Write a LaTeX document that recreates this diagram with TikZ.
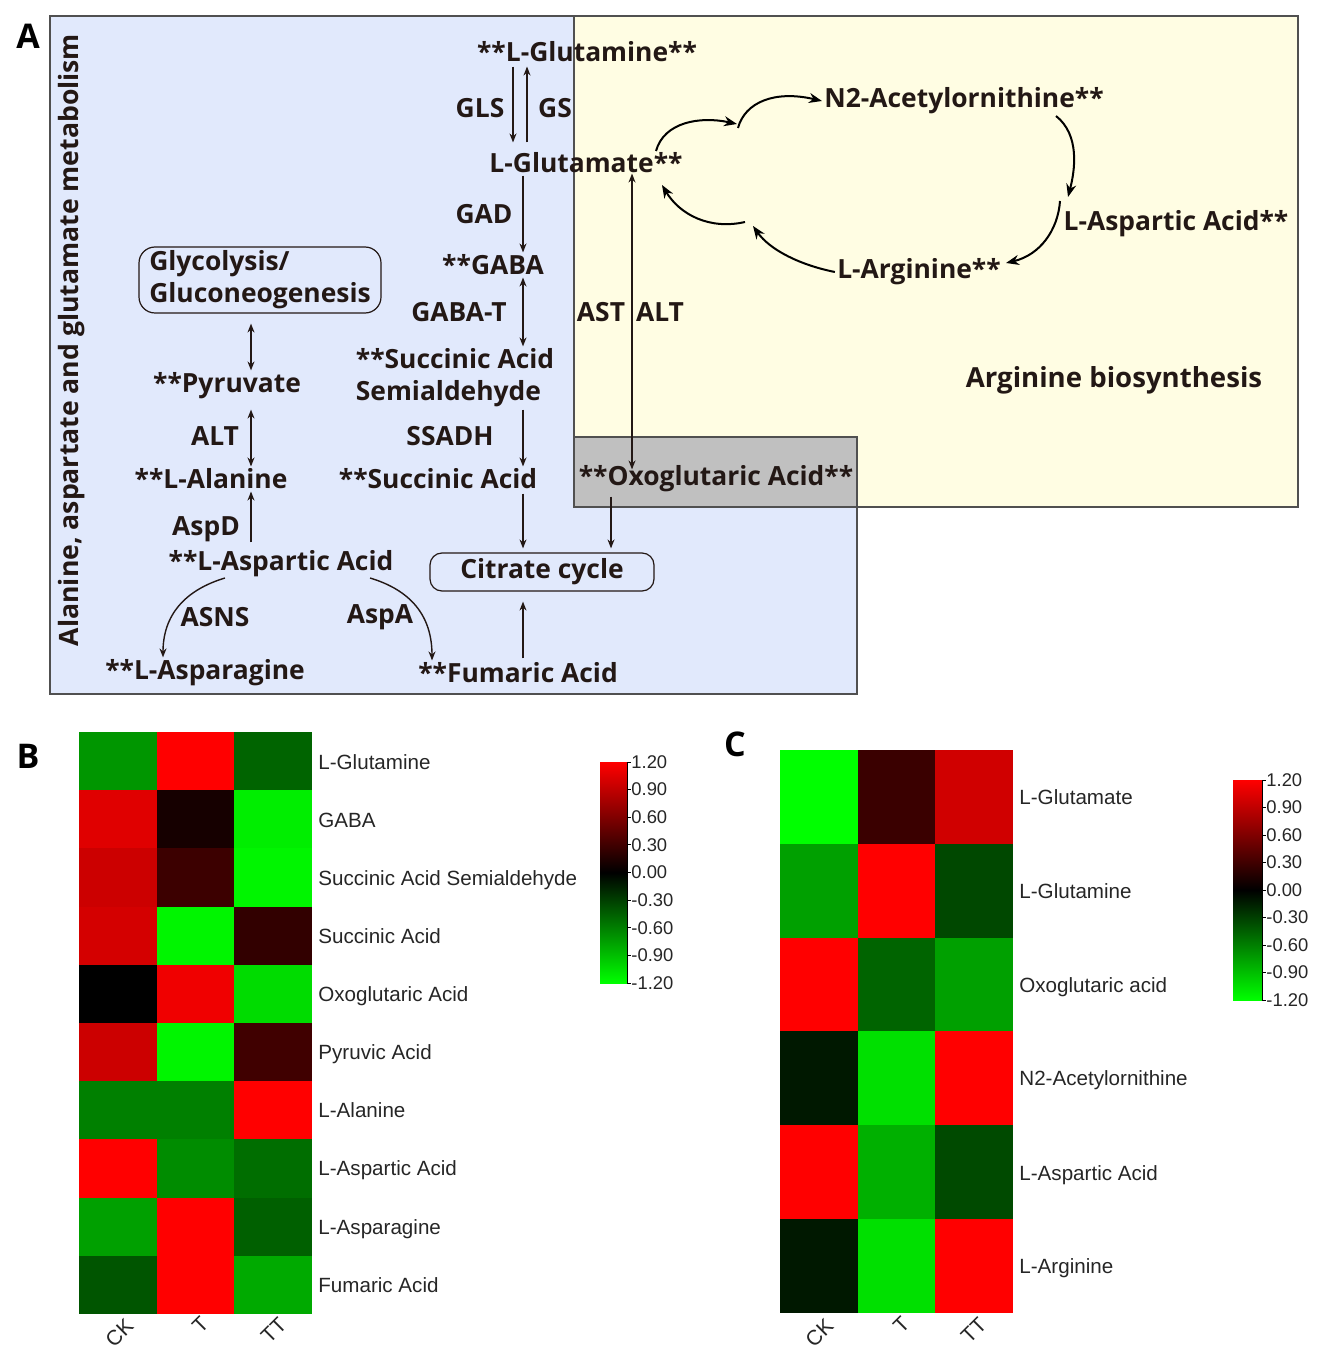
\documentclass[tikz,border=0pt]{standalone}
\usepackage{fontspec}
\setmainfont{Open Sans}
\newfontfamily\arf{Liberation Sans}
\usetikzlibrary{arrows.meta}
\definecolor{tx}{HTML}{231815}
\definecolor{bluebg}{HTML}{E1E9FC}
\definecolor{yelbg}{HTML}{FFFDE3}
\definecolor{graybg}{HTML}{C0C0C0}
\definecolor{frm}{HTML}{505050}
\begin{document}
\begin{tikzpicture}[x=0.5pt,y=-0.5pt,
  lbl/.style={font=\bfseries\fontsize{13.2}{16}\selectfont, text=tx, inner sep=1pt, yshift=-1pt},
  boxlbl/.style={lbl, yshift=0pt, draw=tx, line width=0.6pt},
  ttl/.style={font=\bfseries\fontsize{13.3}{15}\selectfont, text=tx, inner sep=0pt},
  arr/.style={draw=tx, line width=0.6pt, -{Stealth[length=4.5pt,width=3.5pt]}},
  darr/.style={draw=tx, line width=0.6pt, {Stealth[length=4.5pt,width=3.5pt]}-{Stealth[length=4.5pt,width=3.5pt]}},
  cyc/.style={draw=black, line width=1pt, -{Stealth[length=6.5pt,width=5pt]}},
  hm/.style={font=\arf\fontsize{10.3}{12}\selectfont, anchor=west, inner sep=0pt, text=black!85},
  tk/.style={font=\arf\fontsize{9.2}{10}\selectfont, anchor=west, inner sep=0pt, text=black!85},
  cl/.style={font=\arf\fontsize{10.5}{11}\selectfont, anchor=east, inner sep=0pt, rotate=45, text=black!85},
  panel/.style={font=\bfseries\fontsize{17}{20}\selectfont, inner sep=0pt}]
\useasboundingbox (0,0) rectangle (1323,1363);
% ---------- panel A backgrounds
\filldraw[fill=bluebg, draw=frm, line width=0.6pt] (50,16) rectangle (857,694);
\filldraw[fill=yelbg, draw=frm, line width=0.6pt] (574,16) rectangle (1298,507);
\filldraw[fill=graybg, draw=frm, line width=0.6pt] (574,437) rectangle (857,507);
\node[panel] (pA) at (28,36) {A};
\node[ttl, rotate=90] (title) at (72,340) {Alanine, aspartate and glutamate metabolism};
% ---------- central column
\node[lbl] (gln) at (587,50) {**L-Glutamine**};
\node[lbl] (glu) at (586,161) {L-Glutamate**};
\node[lbl] (gaba) at (493,263) {**GABA};
\node[lbl, align=left] (ssa) at (455,376) {**Succinic Acid\\Semialdehyde};
\node[lbl] (succ) at (438,477) {**Succinic Acid};
\node[boxlbl, rounded corners=6pt, minimum width=112pt, minimum height=19pt] (tca) at (542,570) {Citrate cycle};
\node[lbl] (fum) at (518,671) {**Fumaric Acid};
\node[lbl] (oxo) at (716,477) {**Oxoglutaric Acid**};
\node[lbl] (eGLS) at (480,106) {GLS};
\node[lbl] (eGS) at (555,106) {GS};
\node[lbl] (eGAD) at (484,212) {GAD};
\node[lbl] (eGABAT) at (459,310) {GABA-T};
\node[lbl] (eSSADH) at (450,434) {SSADH};
\node[lbl] (eAST) at (601,310) {AST};
\node[lbl] (eALT) at (660,310) {ALT};
\coordinate (xc) at (523,0);
\coordinate (xl) at (513,0);
\coordinate (xr) at (527,0);
\coordinate (xo) at (611,0);
\coordinate (xa) at (632,0);
\draw[arr, shorten <=1pt, shorten >=4pt] (gln.south -| xl) -- (glu.north -| xl);
\draw[arr, shorten <=4pt, shorten >=1pt] (glu.north -| xr) -- (gln.south -| xr);
\draw[arr] (glu.south -| xc) -- (gaba.north -| xc);
\draw[darr] (gaba.south -| xc) -- (ssa.north -| xc);
\draw[arr] (ssa.south -| xc) -- (succ.north -| xc);
\draw[arr, shorten <=1pt, shorten >=2pt] (succ.south -| xc) -- (tca.north -| xc);
\draw[arr, shorten <=1pt, shorten >=5pt] (fum.north -| xc) -- (tca.south -| xc);
\draw[arr, shorten <=1pt, shorten >=2pt] (oxo.south -| xo) -- (tca.north -| xo);
\draw[darr, shorten <=-1pt, shorten >=-3pt] (glu.south -| xa) -- (oxo.north -| xa);
% ---------- left column
\node[boxlbl, align=left, rounded corners=8pt, minimum width=121pt, minimum height=33pt] (glyc) at (260,278) {Glycolysis/\\Gluconeogenesis};
\node[lbl] (pyr) at (227,384) {**Pyruvate};
\node[lbl] (ala) at (211,477) {**L-Alanine};
\node[lbl] (asp) at (281,562) {**L-Aspartic Acid};
\node[lbl] (asn) at (205,671) {**L-Asparagine};
\node[lbl] (eALT2) at (215,434) {ALT};
\node[lbl] (eAspD) at (206,527) {AspD};
\node[lbl] (eASNS) at (215,615) {ASNS};
\node[lbl] (eAspA) at (380,615) {AspA};
\coordinate (xp) at (251,0);
\draw[darr, shorten <=5pt] (glyc.south -| xp) -- (pyr.north -| xp);
\draw[darr, shorten <=4pt] (pyr.south -| xp) -- (ala.north -| xp);
\draw[arr, shorten <=3pt] (asp.north -| xp) -- (ala.south -| xp);
\coordinate (aspL) at (225,578);
\coordinate (aspR) at (370,578);
\draw[arr, line width=0.7pt] (aspL) .. controls (185,590) and (163,615) .. (asn.north -| 163,0);
\draw[arr, line width=0.7pt] (aspR) .. controls (410,590) and (432,615) .. (fum.north -| 432,0);
% ---------- arginine cycle
\node[lbl] (n2) at (964,99) {N2-Acetylornithine**};
\node[lbl] (aspC) at (1176,222) {L-Aspartic Acid**};
\node[lbl] (arg) at (919,270) {L-Arginine**};
\node[lbl, font=\bfseries\fontsize{13.8}{16}\selectfont] (argbio) at (1114,378) {Arginine biosynthesis};
\coordinate (g1) at (656,151);
\coordinate (j1a) at (737,124);
\coordinate (j1b) at (738,128);
\coordinate (n2o) at (1056,116);
\coordinate (aspi) at (1068,197);
\coordinate (aspo) at (1060,201);
\coordinate (argi) at (1006,263);
\coordinate (j2a) at (753,226);
\coordinate (j2b) at (745,222);
\coordinate (g2) at (662,185);
\draw[cyc] (g1) .. controls (664,122) and (700,116) .. (j1a);
\draw[cyc] (j1b) .. controls (745,102) and (775,90) .. (n2.west);
\draw[cyc] (n2o) .. controls (1080,135) and (1075,170) .. (aspi);
\draw[cyc] (aspo) .. controls (1058,230) and (1040,255) .. (argi);
\draw[cyc] (arg.west) .. controls (800,265) and (770,250) .. (j2a);
\draw[cyc] (j2b) .. controls (710,230) and (680,215) .. (g2);
% ---------- panel B heatmap
\node[panel] (pB) at (28,756) {B};
\foreach \yy/\ra/\ga/\rb/\gb/\rc/\gc in {
  732/0/150/255/0/0/100, 790.2/224/0/22/0/0/238, 848.4/204/0/60/0/0/245,
  906.6/212/0/0/245/50/0, 964.8/0/0/240/0/0/220, 1023/204/0/0/245/64/0,
  1081.2/0/128/0/128/255/0, 1139.4/255/0/0/140/0/110, 1197.6/0/160/255/0/0/96,
  1255.8/0/85/255/0/0/170}{
  \fill[fill={rgb,255:red,\ra;green,\ga;blue,0}] (79,\yy) rectangle (156.7,\yy+58.2);
  \fill[fill={rgb,255:red,\rb;green,\gb;blue,0}] (156.7,\yy) rectangle (234.3,\yy+58.2);
  \fill[fill={rgb,255:red,\rc;green,\gc;blue,0}] (234.3,\yy) rectangle (312,\yy+58.2);
}
\node[hm] (b1) at (318,762) {L-Glutamine};
\node[hm] (b2) at (318,820) {GABA};
\node[hm] (b3) at (318,880) {Succinic Acid Semialdehyde};
\node[hm] (b4) at (318,936) {Succinic Acid};
\node[hm] (b5) at (318,996) {Oxoglutaric Acid};
\node[hm] (b6) at (318,1054) {Pyruvic Acid};
\node[hm] (b7) at (318,1110) {L-Alanine};
\node[hm] (b8) at (318,1170) {L-Aspartic Acid};
\node[hm] (b9) at (318,1229) {L-Asparagine};
\node[hm] (b10) at (318,1285) {Fumaric Acid};
\node[cl] (bck) at (130,1322) {CK};
\node[cl] (bt) at (205,1320) {T};
\node[cl] (btt) at (283,1321) {TT};
\shade[top color=red, bottom color=green, middle color=black] (600,762) rectangle (627,983);
\draw[line width=0.5pt] (627,762) -- (627,983);
\foreach \i/\v in {0/1.20,1/0.90,2/0.60,3/0.30,4/0.00,5/-0.30,6/-0.60,7/-0.90,8/-1.20}{
  \draw[line width=0.5pt] (627,762+27.625*\i) -- (631,762+27.625*\i);
  \node[tk] (bt\i) at (631,762+27.625*\i) {\v};
}
% ---------- panel C heatmap
\node[panel] (pC) at (735,744) {C};
\foreach \yy/\ra/\ga/\rb/\gb/\rc/\gc in {
  750/0/255/58/0/208/0, 843.8/0/160/255/0/0/72, 937.6/255/0/0/100/0/160,
  1031.4/0/24/0/224/255/0, 1125.2/255/0/0/176/0/74, 1219/0/24/0/224/255/0}{
  \fill[fill={rgb,255:red,\ra;green,\ga;blue,0}] (780,\yy) rectangle (857.7,\yy+93.8);
  \fill[fill={rgb,255:red,\rb;green,\gb;blue,0}] (857.7,\yy) rectangle (935.3,\yy+93.8);
  \fill[fill={rgb,255:red,\rc;green,\gc;blue,0}] (935.3,\yy) rectangle (1013,\yy+93.8);
}
\node[hm] (c1) at (1019,797) {L-Glutamate};
\node[hm] (c2) at (1019,891) {L-Glutamine};
\node[hm] (c3) at (1019,987) {Oxoglutaric acid};
\node[hm] (c4) at (1019,1080) {N2-Acetylornithine};
\node[hm] (c5) at (1019,1175) {L-Aspartic Acid};
\node[hm] (c6) at (1019,1268) {L-Arginine};
\node[cl] (cck) at (830,1322) {CK};
\node[cl] (ct) at (906,1320) {T};
\node[cl] (ctt) at (983,1321) {TT};
\shade[top color=red, bottom color=green, middle color=black] (1233,780) rectangle (1262,1000);
\draw[line width=0.5pt] (1262,780) -- (1262,1000);
\foreach \i/\v in {0/1.20,1/0.90,2/0.60,3/0.30,4/0.00,5/-0.30,6/-0.60,7/-0.90,8/-1.20}{
  \draw[line width=0.5pt] (1262,780+27.5*\i) -- (1266,780+27.5*\i);
  \node[tk] (ct\i) at (1266,780+27.5*\i) {\v};
}
\end{tikzpicture}
\end{document}
